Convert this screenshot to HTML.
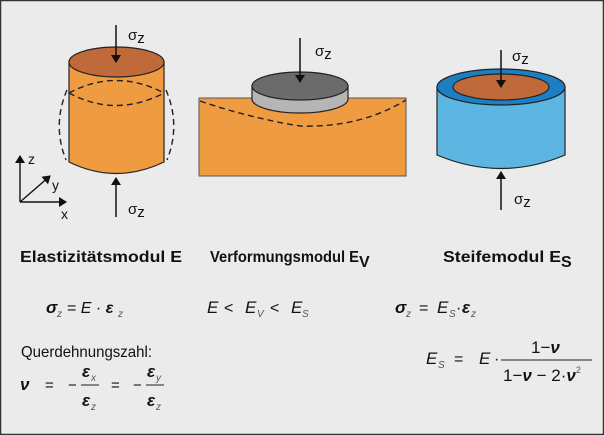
<!DOCTYPE html>
<html><head><meta charset="utf-8"><style>
html,body{margin:0;padding:0;background:#ebebeb}
svg{display:block}
text{font-family:"Liberation Sans",sans-serif;fill:#111}
.t{font-weight:bold;font-size:16px}
.m{font-style:italic;font-size:17px}
.s{font-style:italic;font-size:10px;fill:#555}
</style></head><body>
<svg width="604" height="435" viewBox="0 0 604 435" xmlns="http://www.w3.org/2000/svg">
<defs><marker id="a" markerWidth="8" markerHeight="10" refX="7" refY="5" orient="auto" markerUnits="userSpaceOnUse"><path d="M0,0 L8,5 L0,10 z" fill="#111"/></marker></defs>
<rect x="0.5" y="0.5" width="603" height="434" fill="#ebebeb" stroke="#333" stroke-width="1.5"/>
<!-- left cylinder -->
<path d="M69,62 L69,162 Q116,185 164,162 L164,62 Z" fill="#ef9b42" stroke="#222" stroke-width="1.2"/>
<ellipse cx="116.5" cy="62" rx="47.5" ry="15" fill="#c0693a" stroke="#222" stroke-width="1.2"/>
<path d="M69,93 Q116,118 164,93" fill="none" stroke="#222" stroke-width="1.4" stroke-dasharray="6,4"/>
<path d="M69,93 Q116,68 164,93" fill="none" stroke="#222" stroke-width="1.4" stroke-dasharray="6,4"/>
<path d="M67,90 Q52,125 66,160" fill="none" stroke="#222" stroke-width="1.4" stroke-dasharray="6,4"/>
<path d="M166,90 Q181,125 167,160" fill="none" stroke="#222" stroke-width="1.4" stroke-dasharray="6,4"/>
<line x1="116" y1="25" x2="116" y2="62" stroke="#111" stroke-width="1.5" marker-end="url(#a)"/>
<line x1="116" y1="217" x2="116" y2="178" stroke="#111" stroke-width="1.5" marker-end="url(#a)"/>
<text x="128" y="40" font-size="15">σ<tspan dy="3">z</tspan></text>
<text x="128" y="214" font-size="15">σ<tspan dy="3">z</tspan></text>
<!-- axes -->
<line x1="20" y1="202" x2="20" y2="156" stroke="#111" stroke-width="1.4" marker-end="url(#a)"/>
<line x1="20" y1="202" x2="66" y2="202" stroke="#111" stroke-width="1.4" marker-end="url(#a)"/>
<line x1="20" y1="202" x2="50" y2="176" stroke="#111" stroke-width="1.4" marker-end="url(#a)"/>
<text x="28" y="164" font-size="14">z</text>
<text x="52" y="190" font-size="14">y</text>
<text x="61" y="219" font-size="14">x</text>
<!-- middle -->
<rect x="199" y="98" width="207" height="78" fill="#ef9b42" stroke="#555" stroke-width="1"/>
<path d="M200,101 Q250,118 300,126 Q360,128 406,100" fill="none" stroke="#222" stroke-width="1.4" stroke-dasharray="6,4"/>
<path d="M252,86 L252,99 A48,14 0 0 0 348,99 L348,86 Z" fill="#b5b5b5" stroke="#222" stroke-width="1.2"/>
<ellipse cx="300" cy="86" rx="48" ry="14" fill="#6b6b6b" stroke="#222" stroke-width="1.2"/>
<line x1="300" y1="38" x2="300" y2="82" stroke="#111" stroke-width="1.5" marker-end="url(#a)"/>
<text x="315" y="56" font-size="15">σ<tspan dy="3">z</tspan></text>
<!-- right -->
<path d="M437,87 L437,155 Q501,182 565,155 L565,87 Z" fill="#5db6e2" stroke="#222" stroke-width="1.2"/>
<ellipse cx="501" cy="87" rx="64" ry="18" fill="#1c7fc2" stroke="#222" stroke-width="1.2"/>
<ellipse cx="501" cy="87" rx="48" ry="13" fill="#c0693a" stroke="#222" stroke-width="1.2"/>
<line x1="501" y1="50" x2="501" y2="87" stroke="#111" stroke-width="1.5" marker-end="url(#a)"/>
<line x1="501" y1="210" x2="501" y2="172" stroke="#111" stroke-width="1.5" marker-end="url(#a)"/>
<text x="512" y="61" font-size="15">σ<tspan dy="3">z</tspan></text>
<text x="514" y="204" font-size="15">σ<tspan dy="3">z</tspan></text>
<!-- titles -->
<text class="t" x="20" y="262" textLength="162" lengthAdjust="spacingAndGlyphs">Elastizitätsmodul E</text>
<text class="t" x="210" y="262" textLength="149" lengthAdjust="spacingAndGlyphs">Verformungsmodul E</text><text class="t" x="359" y="267" font-size="11">V</text>
<text class="t" x="443" y="262" textLength="118" lengthAdjust="spacingAndGlyphs">Steifemodul E</text><text class="t" x="561" y="267" font-size="11">S</text>
<!-- equations -->
<text class="m" x="46" y="313" font-weight="bold">σ</text><text class="s" x="57" y="317">z</text>
<text x="67" y="313" font-size="16">= <tspan font-style="italic">E</tspan> · <tspan font-style="italic" font-weight="bold">ε</tspan></text><text class="s" x="118" y="317">z</text>
<text class="m" x="207" y="313">E</text><text x="224" y="313" font-size="16">&lt;</text>
<text class="m" x="245" y="313">E</text><text class="s" x="257" y="317">V</text>
<text x="270" y="313" font-size="16">&lt;</text><text class="m" x="291" y="313">E</text><text class="s" x="302" y="317">S</text>
<text class="m" x="395" y="313" font-weight="bold">σ</text><text class="s" x="406" y="317">z</text>
<text x="419" y="313" font-size="16">=</text><text class="m" x="437" y="313">E</text><text class="s" x="449" y="317">S</text>
<text x="456" y="313" font-size="16">·</text><text class="m" x="462" y="313" font-weight="bold">ε</text><text class="s" x="471" y="317">z</text>
<text x="21" y="357" font-size="16" textLength="131" lengthAdjust="spacingAndGlyphs">Querdehnungszahl:</text>
<text class="m" x="20" y="390" font-weight="bold">ν</text>
<text x="45" y="390" font-size="15">=</text><text x="68" y="390" font-size="15">−</text>
<text class="m" x="82" y="377" font-weight="bold">ε</text><text class="s" x="91" y="381">x</text>
<line x1="81" y1="385" x2="99" y2="385" stroke="#222" stroke-width="1"/>
<text class="m" x="82" y="406" font-weight="bold">ε</text><text class="s" x="91" y="410">z</text>
<text x="111" y="390" font-size="15">=</text><text x="133" y="390" font-size="15">−</text>
<text class="m" x="147" y="377" font-weight="bold">ε</text><text class="s" x="156" y="381">y</text>
<line x1="146" y1="385" x2="164" y2="385" stroke="#222" stroke-width="1"/>
<text class="m" x="147" y="406" font-weight="bold">ε</text><text class="s" x="156" y="410">z</text>
<text class="m" x="426" y="364">E</text><text class="s" x="438" y="368">S</text>
<text x="454" y="364" font-size="16">=</text><text class="m" x="479" y="364">E</text><text x="494" y="364" font-size="16">·</text>
<line x1="501" y1="360" x2="592" y2="360" stroke="#222" stroke-width="1"/>
<text x="531" y="353" font-size="17">1−<tspan font-style="italic" font-weight="bold">ν</tspan></text>
<text x="503" y="381" font-size="17">1−<tspan font-style="italic" font-weight="bold">ν</tspan> − 2·<tspan font-style="italic" font-weight="bold">ν</tspan><tspan font-size="9" dy="-8" fill="#555">2</tspan></text>
</svg>
</body></html>
